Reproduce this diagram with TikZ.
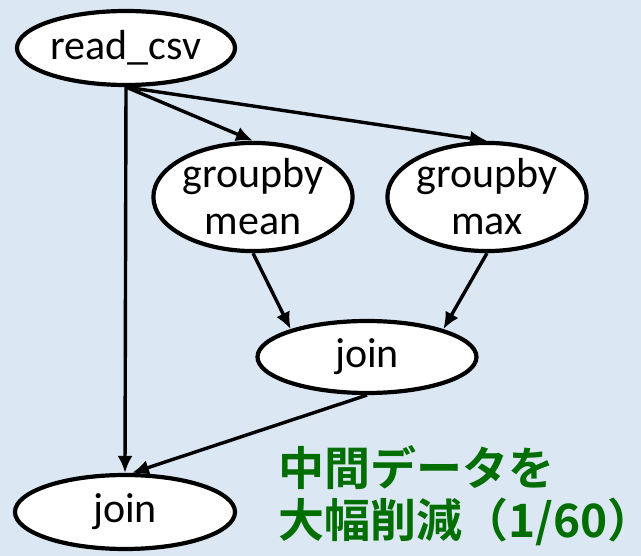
\documentclass[tikz,border=0pt]{standalone}
\usepackage{fontspec}
\setmainfont{Carlito}
\newfontfamily\jpfont{Noto Sans CJK JP Bold}
\usepackage{tikz}
\usetikzlibrary{shapes.geometric}
\usetikzlibrary{arrows.meta}
\definecolor{bg}{RGB}{220,231,244}
\definecolor{dgreen}{RGB}{0,110,0}

\begin{document}
\begin{tikzpicture}[x=1pt, y=-1pt, >={Latex[length=17pt,width=15pt]},
op/.style={ellipse,draw,fill=white,line width=4.2pt,inner sep=0pt,align=center,font=\fontsize{42}{47}\selectfont},
edge/.style={->,line width=3.4pt}]
\fill[bg] (0,0) rectangle (641,556);
\useasboundingbox (0,0) rectangle (641,556);

\node [op, minimum width=218, minimum height=74](rc) at (126,48) {read\_csv};
\node [op, minimum width=189, minimum height=104](gm) at (253,197) {groupby\\mean};
\node [op, minimum width=188, minimum height=104](gx) at (487,197) {groupby\\max};
\node [op, minimum width=219, minimum height=72](jm) at (367,357) {join};
\node [op, minimum width=220, minimum height=74](jb) at (125,512) {join};

% edges
\draw [edge] (rc.south) -- (jb.north);
\draw [edge] (rc.south) -- (gm.north);
\draw [edge] (rc.south) -- (gx.north);
\draw [edge] (gm.south) -- (jm.160);
\draw [edge] (gx.south) -- (jm.20);
\draw [edge] (jm.south) -- (jb.80);

% note
\node [anchor=west, align=left, text=dgreen, inner sep=0pt, font=\jpfont\fontsize{46}{52}\selectfont](note) at (278,496) {中間データを\\大幅削減（1/60）};
\end{tikzpicture}
\end{document}
